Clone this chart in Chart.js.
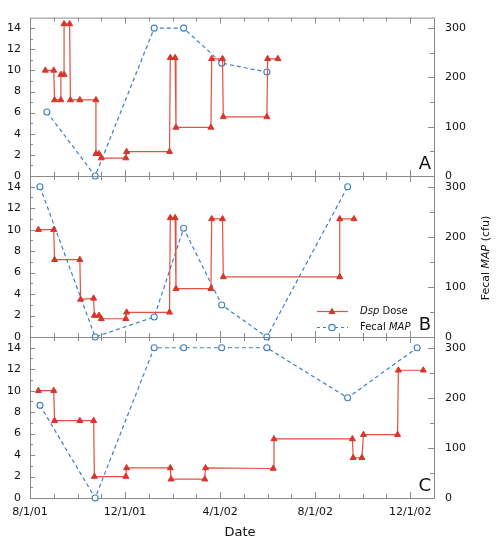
<!DOCTYPE html>
<html>
<head>
<meta charset="utf-8">
<script src="https://cdn.jsdelivr.net/npm/chart.js@4"></script>
<style>
  html, body { margin: 0; padding: 0; background: #fff; }
  #wrap { position: relative; width: 500px; height: 552px; }
  #wrap canvas { position: absolute; left: 0; top: 0; }
</style>
</head>
<body>
<div id="wrap">
  <canvas id="panel-a" width="500" height="552"></canvas>
  <canvas id="panel-b" width="500" height="552"></canvas>
  <canvas id="panel-c" width="500" height="552"></canvas>
</div>
<script>
// x tick labels (every 4 months from 8/1/01)
const xTickLabels = ['8/1/01', '12/1/01', '4/1/02', '8/1/02', '12/1/02']

// panel A
const doseDatesA = ['2001-08-21', '2001-09-01', '2001-09-02', '2001-09-10', '2001-09-10', '2001-09-14', '2001-09-14',
  '2001-09-21', '2001-09-22', '2001-10-04', '2001-10-25', '2001-10-25', '2001-10-29', '2001-11-01', '2001-12-02',
  '2001-12-03', '2002-01-28', '2002-01-29', '2002-02-04', '2002-02-05', '2002-03-20', '2002-03-21', '2002-04-04',
  '2002-04-05', '2002-05-31', '2002-06-01', '2002-06-14']
const doseValuesA = [10, 10, 7.2, 7.2, 9.6, 9.6, 14.4, 14.4, 7.2, 7.2, 7.2, 2.1, 2.1, 1.7, 1.7, 2.3, 2.3,
  11.2, 11.2, 4.6, 4.6, 11.1, 11.1, 5.6, 5.6, 11.1, 11.1]
const mapDatesA = ['2001-08-23', '2001-10-24', '2002-01-08', '2002-02-14', '2002-04-03', '2002-05-31']
const mapValuesA = [130, 0, 300, 300, 229, 211]

// panel B
const doseDatesB = ['2001-08-12', '2001-09-01', '2001-09-02', '2001-10-04', '2001-10-05', '2001-10-22', '2001-10-23',
  '2001-10-29', '2001-11-01', '2001-12-02', '2001-12-03', '2002-01-28', '2002-01-29', '2002-02-04', '2002-02-05',
  '2002-03-20', '2002-03-21', '2002-04-04', '2002-04-05', '2002-09-02', '2002-09-02', '2002-09-20']
const doseValuesB = [10, 10, 7.2, 7.2, 3.5, 3.6, 2.0, 2.0, 1.7, 1.7, 2.3, 2.3, 11.1, 11.1, 4.5, 4.5,
  11.0, 11.0, 5.6, 5.6, 11.0, 11.0]
const mapDatesB = ['2001-08-14', '2001-10-24', '2002-01-08', '2002-02-14', '2002-04-03', '2002-05-31', '2002-09-12']
const mapValuesB = [300, 0, 40, 217, 64, 0, 300]

// panel C
const doseDatesC = ['2001-08-12', '2001-09-01', '2001-09-02', '2001-10-04', '2001-10-22', '2001-10-23', '2001-12-02',
  '2001-12-03', '2002-01-29', '2002-01-30', '2002-03-12', '2002-03-13', '2002-06-08', '2002-06-09', '2002-09-18',
  '2002-09-19', '2002-09-30', '2002-10-02', '2002-11-15', '2002-11-16', '2002-12-18']
const doseValuesC = [10, 10, 7.2, 7.2, 7.2, 2.0, 2.0, 2.8, 2.8, 1.75, 1.75, 2.8, 2.75, 5.5, 5.5,
  3.75, 3.75, 5.9, 5.9, 11.9, 11.9]
const mapDatesC = ['2001-08-14', '2001-10-24', '2002-01-08', '2002-02-14', '2002-04-03', '2002-05-31', '2002-09-12', '2002-12-10']
const mapValuesC = [185, 0, 300, 300, 300, 300, 200, 300]

const RED = '#e2503f'
const RED_MARK = '#d6372a'
const BLUE = '#3d7fc1'
const AXIS = '#8a8a8a'
const FONT = "'DejaVu Sans', sans-serif"

Chart.defaults.font.family = FONT
Chart.defaults.color = '#111'

// months since 8/1/01, fractional by day
function toMonths(s) {
  const [y, m, d] = s.split('-').map(Number)
  const dim = new Date(y, m, 0).getDate()
  return (y - 2001) * 12 + (m - 8) + (d - 1) / dim
}

function points(dates, values) {
  return dates.map((d, i) => ({ x: toMonths(d), y: values[i] }))
}

function drawMixed(ctx, parts, x, y, size) {
  // parts: [[text, italic], ...], drawn centred on x
  const widths = parts.map(([t, it]) => {
    ctx.font = `${it ? 'italic ' : ''}${size}px ${FONT}`
    return ctx.measureText(t).width
  })
  let cx = x - widths.reduce((s, w) => s + w, 0) / 2
  parts.forEach(([t, it], i) => {
    ctx.font = `${it ? 'italic ' : ''}${size}px ${FONT}`
    ctx.fillText(t, cx, y)
    cx += widths[i]
  })
}

const decoPlugin = {
  id: 'deco',
  beforeDatasetsDraw(chart) {
    const { ctx, chartArea: a, scales } = chart
    ctx.save()
    ctx.strokeStyle = AXIS
    ctx.lineWidth = 1
    ctx.strokeRect(a.left + 0.5, a.top + 0.5, a.right - a.left, a.bottom - a.top)
    ctx.beginPath()
    for (let m = 1; m < 17; m++) {
      const px = Math.round(scales.x.getPixelForValue(m)) + 0.5
      const len = m % 4 === 0 ? 6 : 4
      ctx.moveTo(px, a.top); ctx.lineTo(px, a.top + len)
      ctx.moveTo(px, a.bottom); ctx.lineTo(px, a.bottom - len)
    }
    for (let v = 1; v < 15; v++) {
      const py = Math.round(scales.y.getPixelForValue(v)) + 0.5
      const len = v % 2 === 0 ? 5 : 3
      ctx.moveTo(a.left, py); ctx.lineTo(a.left + len, py)
    }
    for (let v = 50; v <= 300; v += 50) {
      const py = Math.round(scales.y2.getPixelForValue(v)) + 0.5
      const len = v % 100 === 0 ? 6 : 4
      ctx.moveTo(a.right, py); ctx.lineTo(a.right - len, py)
    }
    ctx.stroke()
    ctx.restore()
  },
  afterDraw(chart, args, opts) {
    const { ctx, chartArea: a } = chart
    ctx.save()
    ctx.fillStyle = '#111'
    ctx.font = `18px ${FONT}`
    ctx.textAlign = 'right'
    ctx.textBaseline = 'alphabetic'
    ctx.fillText(opts.letter, a.right - 3, a.bottom - 7)

    if (opts.legend) {
      const x0 = 317, x1 = 348, xm = 332
      ctx.lineWidth = 1.2
      ctx.strokeStyle = RED
      ctx.beginPath(); ctx.moveTo(x0, 311.5); ctx.lineTo(x1, 311.5); ctx.stroke()
      ctx.fillStyle = RED_MARK
      ctx.beginPath(); ctx.moveTo(xm, 307.5); ctx.lineTo(xm + 3.5, 314); ctx.lineTo(xm - 3.5, 314); ctx.closePath(); ctx.fill()
      ctx.strokeStyle = BLUE
      ctx.setLineDash([3, 3])
      ctx.beginPath(); ctx.moveTo(x0, 327.5); ctx.lineTo(x1, 327.5); ctx.stroke()
      ctx.setLineDash([])
      ctx.fillStyle = '#fff'
      ctx.beginPath(); ctx.arc(xm, 327.5, 3.2, 0, Math.PI * 2); ctx.fill(); ctx.stroke()
      ctx.fillStyle = '#111'
      ctx.textAlign = 'left'
      ctx.textBaseline = 'middle'
      let x = 360
      ctx.font = `italic 10px ${FONT}`
      ctx.fillText('Dsp', x, 311)
      x += ctx.measureText('Dsp').width
      ctx.font = `10px ${FONT}`
      ctx.fillText(' Dose', x, 311)
      x = 360
      ctx.fillText('Fecal ', x, 327)
      x += ctx.measureText('Fecal ').width
      ctx.font = `italic 10px ${FONT}`
      ctx.fillText('MAP', x, 327)
    }

    if (opts.rightTitle) {
      ctx.translate(486, 258)
      ctx.rotate(-Math.PI / 2)
      ctx.textAlign = 'left'
      ctx.textBaseline = 'middle'
      drawMixed(ctx, [['Fecal ', false], ['MAP', true], [' (cfu)', false]], 0, 0, 11)
      ctx.setTransform(1, 0, 0, 1, 0, 0)
    }

    if (opts.xTitle) {
      ctx.textAlign = 'center'
      ctx.textBaseline = 'middle'
      ctx.font = `13px ${FONT}`
      ctx.fillText('Date', 240, 533)
    }
    ctx.restore()
  }
}

function makePanel(id, cfg) {
  const tickFont = { size: 11 }
  return new Chart(document.getElementById(id), {
    type: 'line',
    data: {
      datasets: [{
        label: 'Dsp Dose',
        data: points(cfg.doseDates, cfg.doseValues),
        yAxisID: 'y',
        borderColor: RED,
        borderWidth: 1.2,
        pointStyle: 'triangle',
        pointRadius: 3.5,
        pointBackgroundColor: RED_MARK,
        pointBorderColor: RED_MARK,
        pointBorderWidth: 1,
        tension: 0,
        clip: false
      }, {
        label: 'Fecal MAP',
        data: points(cfg.mapDates, cfg.mapValues),
        yAxisID: 'y2',
        borderColor: BLUE,
        borderWidth: 1.2,
        borderDash: [4, 3],
        pointStyle: 'circle',
        pointRadius: 3,
        pointBackgroundColor: '#fff',
        pointBorderColor: BLUE,
        pointBorderWidth: 1.1,
        tension: 0,
        clip: false
      }]
    },
    options: {
      responsive: false,
      animation: false,
      devicePixelRatio: 1,
      events: [],
      layout: { padding: { top: cfg.top, bottom: cfg.bottom, left: 0, right: 0 } },
      plugins: {
        legend: { display: false },
        tooltip: { enabled: false },
        deco: { letter: cfg.letter, legend: !!cfg.legend, rightTitle: !!cfg.rightTitle, xTitle: !!cfg.showX }
      },
      scales: {
        x: {
          type: 'linear',
          min: 0,
          max: 17,
          display: !!cfg.showX,
          afterFit: (s) => { if (cfg.showX) s.height = 54 },
          grid: { display: false, drawTicks: false },
          border: { display: false },
          ticks: {
            stepSize: 4,
            autoSkip: false,
            includeBounds: false,
            maxRotation: 0,
            padding: 8,
            font: tickFont,
            callback: (v) => (v % 4 === 0 ? xTickLabels[v / 4] : '')
          }
        },
        y: {
          position: 'left',
          min: 0,
          max: 15,
          afterFit: (s) => { s.width = 30 },
          grid: { display: false, drawTicks: false },
          border: { display: false },
          ticks: {
            stepSize: 2,
            autoSkip: false,
            includeBounds: false,
            padding: 9,
            font: tickFont,
            callback: (v) => (v % 2 === 0 ? v : '')
          }
        },
        y2: {
          position: 'right',
          min: 0,
          max: 300 * 15 / 14,
          afterFit: (s) => { s.width = 66 },
          grid: { display: false, drawTicks: false },
          border: { display: false },
          ticks: {
            stepSize: 50,
            autoSkip: false,
            includeBounds: false,
            padding: 11,
            font: tickFont,
            callback: (v) => (v % 100 === 0 ? v : '')
          }
        }
      }
    },
    plugins: [decoPlugin]
  })
}

makePanel('panel-a', {
  letter: 'A', top: 15, bottom: 552 - 176,
  doseDates: doseDatesA, doseValues: doseValuesA, mapDates: mapDatesA, mapValues: mapValuesA
})
makePanel('panel-b', {
  letter: 'B', top: 176, bottom: 552 - 337, legend: true, rightTitle: true,
  doseDates: doseDatesB, doseValues: doseValuesB, mapDates: mapDatesB, mapValues: mapValuesB
})
makePanel('panel-c', {
  letter: 'C', top: 337, bottom: 0, showX: true,
  doseDates: doseDatesC, doseValues: doseValuesC, mapDates: mapDatesC, mapValues: mapValuesC
})
</script>
</body>
</html>
